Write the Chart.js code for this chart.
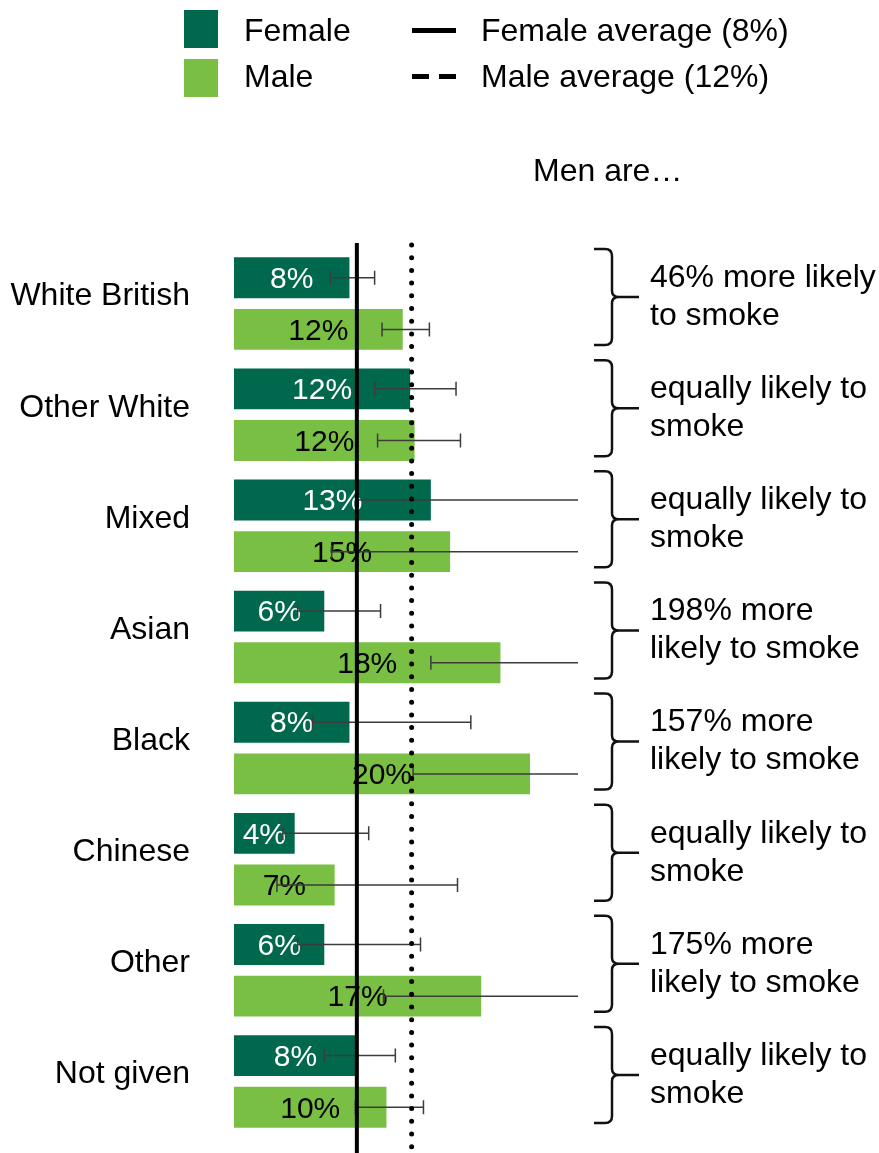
<!DOCTYPE html>
<html>
<head>
<meta charset="utf-8">
<title>Smoking by ethnicity and sex</title>
<script src="https://cdn.jsdelivr.net/npm/chart.js@4.4.1/dist/chart.umd.min.js"></script>
<style>
  body { margin: 0; background: #fff; font-family: "Liberation Sans", Arial, sans-serif; color: #000; }
  #wrap { position: relative; width: 879px; height: 1153px; overflow: hidden; }
  #chart { position: absolute; left: 0; top: 0; }
  .sw { position: absolute; width: 34px; height: 38px; }
  .txt { position: absolute; font-size: 32px; line-height: 36px; white-space: nowrap; }
  .solid { position: absolute; width: 44px; height: 5px; background: #000; }
  .dash { position: absolute; width: 17px; height: 5px; background: #000; }
</style>
</head>
<body>
<div id="wrap">
  <canvas id="chart" width="879" height="1153"></canvas>

  <!-- легенда -->
  <div class="sw" style="left:184px; top:10px; background:#00694d;"></div>
  <div class="txt" style="left:244px; top:12px;">Female</div>
  <div class="sw" style="left:184px; top:59px; background:#78bf43;"></div>
  <div class="txt" style="left:244px; top:58px;">Male</div>

  <div class="solid" style="left:412px; top:28px;"></div>
  <div class="txt" style="left:481px; top:12px;">Female average (8%)</div>
  <div class="dash" style="left:412px; top:74px;"></div>
  <div class="dash" style="left:439px; top:74px;"></div>
  <div class="txt" style="left:481px; top:58px;">Male average (12%)</div>

  <div class="txt" style="left:533px; top:152px;">Men are…</div>
</div>

<script>
// данные
const categories = ["White British", "Other White", "Mixed", "Asian", "Black", "Chinese", "Other", "Not given"];
const femaleValues = [7.8, 11.9, 13.3, 6.1, 7.8, 4.1, 6.1, 8.3];
const maleValues = [11.4, 12.2, 14.6, 18.0, 20.0, 6.8, 16.7, 10.3];
const femaleLabels = ["8%", "12%", "13%", "6%", "8%", "4%", "6%", "8%"];
const maleLabels = ["12%", "12%", "15%", "18%", "20%", "7%", "17%", "10%"];
// доверительные интервалы (нижняя / верхняя граница)
const femaleLow = [6.5, 9.5, 8.3, 4.3, 5.3, 3.3, 4.3, 6.1];
const femaleHigh = [9.5, 15.0, 30, 9.9, 16.0, 9.1, 12.6, 10.9];
const maleLow = [10.0, 9.7, 6.6, 13.3, 12.1, 2.9, 10.1, 8.2];
const maleHigh = [13.2, 15.3, 30, 30, 30, 15.1, 30, 12.8];
const femaleAverage = 8.3;
const maleAverage = 12.0;
const notes = [
    ["46% more likely", "to smoke"],
    ["equally likely to", "smoke"],
    ["equally likely to", "smoke"],
    ["198% more", "likely to smoke"],
    ["157% more", "likely to smoke"],
    ["equally likely to", "smoke"],
    ["175% more", "likely to smoke"],
    ["equally likely to", "smoke"],
];

const FONT = '"Liberation Sans", Arial, sans-serif';

// подписи, планки погрешностей, средние линии и скобки
const extras = {
    id: "extras",
    afterDatasetsDraw(chart) {
        const ctx = chart.ctx;
        const area = chart.chartArea;
        const x = chart.scales.x;
        const y = chart.scales.y;
        const sets = [
            { low: femaleLow, high: femaleHigh, labels: femaleLabels, color: "#fff" },
            { low: maleLow, high: maleHigh, labels: maleLabels, color: "#000" },
        ];

        // подписи значений
        sets.forEach((s, d) => {
            chart.getDatasetMeta(d).data.forEach((bar, i) => {
                ctx.save();
                ctx.font = "30px " + FONT;
                ctx.fillStyle = s.color;
                ctx.textAlign = "center";
                ctx.textBaseline = "middle";
                ctx.fillText(s.labels[i], (bar.base + bar.x) / 2, bar.y + 2);
                ctx.restore();
            });
        });

        // планки погрешностей
        ctx.save();
        ctx.beginPath();
        ctx.rect(area.left, 0, area.right - area.left, chart.height);
        ctx.clip();
        ctx.strokeStyle = "#3c3c3c";
        ctx.lineWidth = 1.5;
        sets.forEach((s, d) => {
            chart.getDatasetMeta(d).data.forEach((bar, i) => {
                const x1 = x.getPixelForValue(s.low[i]);
                const x2 = x.getPixelForValue(s.high[i]);
                ctx.beginPath();
                ctx.moveTo(x1, bar.y);
                ctx.lineTo(x2, bar.y);
                ctx.moveTo(x1, bar.y - 7);
                ctx.lineTo(x1, bar.y + 7);
                ctx.moveTo(x2, bar.y - 7);
                ctx.lineTo(x2, bar.y + 7);
                ctx.stroke();
            });
        });
        ctx.restore();

        // средние линии
        ctx.save();
        ctx.strokeStyle = "#000";
        const fx = x.getPixelForValue(femaleAverage);
        ctx.lineWidth = 4;
        ctx.beginPath();
        ctx.moveTo(fx, area.top - 5);
        ctx.lineTo(fx, chart.height);
        ctx.stroke();

        const mx = x.getPixelForValue(maleAverage);
        ctx.lineWidth = 5;
        ctx.lineCap = "round";
        ctx.setLineDash([0, 12.7]);
        ctx.beginPath();
        ctx.moveTo(mx, area.top - 3);
        ctx.lineTo(mx, chart.height);
        ctx.stroke();
        ctx.restore();

        // скобки и комментарии справа
        ctx.save();
        ctx.strokeStyle = "#111";
        ctx.lineWidth = 2.5;
        ctx.fillStyle = "#000";
        ctx.font = "32px " + FONT;
        ctx.textBaseline = "middle";
        categories.forEach((c, i) => {
            const center = y.getPixelForValue(i);
            const cy = center - 6.5;
            const top = cy - 48;
            const bottom = cy + 48;
            const vx = 612;
            ctx.beginPath();
            ctx.moveTo(594, top);
            ctx.lineTo(605, top);
            ctx.quadraticCurveTo(vx, top, vx, top + 7);
            ctx.lineTo(vx, cy - 6);
            ctx.quadraticCurveTo(vx, cy, vx + 7, cy);
            ctx.lineTo(639, cy);
            ctx.moveTo(vx + 7, cy);
            ctx.quadraticCurveTo(vx, cy, vx, cy + 6);
            ctx.lineTo(vx, bottom - 7);
            ctx.quadraticCurveTo(vx, bottom, 605, bottom);
            ctx.lineTo(594, bottom);
            ctx.stroke();

            ctx.fillText(notes[i][0], 650, center - 25.5);
            ctx.fillText(notes[i][1], 650, center + 12.5);
        });
        ctx.restore();
    },
};

new Chart(document.getElementById("chart"), {
    type: "bar",
    data: {
        labels: categories,
        datasets: [
            {
                label: "Female",
                data: femaleValues,
                backgroundColor: "#00694d",
                categoryPercentage: 0.93,
                barPercentage: 0.79,
            },
            {
                label: "Male",
                data: maleValues,
                backgroundColor: "#78bf43",
                categoryPercentage: 0.93,
                barPercentage: 0.79,
            },
        ],
    },
    options: {
        indexAxis: "y",
        responsive: false,
        animation: false,
        devicePixelRatio: 1,
        layout: { padding: { top: 248, right: 301, bottom: 16, left: 0 } },
        scales: {
            x: { display: false, min: 0, max: 23.24 },
            y: {
                grid: { display: false, drawTicks: false },
                border: { display: false },
                ticks: {
                    color: "#000",
                    font: { family: FONT, size: 32 },
                    padding: 44,
                    labelOffset: -7,
                },
                afterFit(scale) {
                    scale.width = 234;
                    // подпись не должна отъедать место снизу
                    scale.paddingTop = 0;
                    scale.paddingBottom = 0;
                },
            },
        },
        plugins: {
            legend: { display: false },
            tooltip: { enabled: false },
        },
    },
    plugins: [extras],
});
</script>
</body>
</html>
